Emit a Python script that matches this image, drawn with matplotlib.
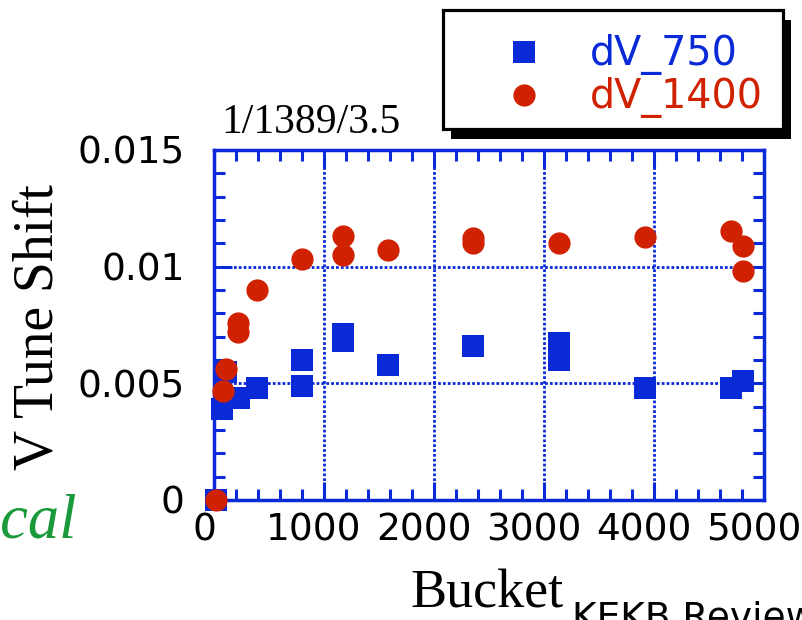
import matplotlib.pyplot as plt
import matplotlib.transforms as mtransforms
from matplotlib.patches import Rectangle
from matplotlib.lines import Line2D
from matplotlib.ticker import MultipleLocator

# vertical tune shift vs bucket number, two bunch-current settings
bucket_750 = [20, 76, 227, 106, 394, 797, 797, 1175, 1175, 1579, 2357, 3136, 3136, 3915, 4697, 4812]
dv_750 = [0.0, 0.0039, 0.00437, 0.0055, 0.0048, 0.0049, 0.0060, 0.0071, 0.0068, 0.0058,
          0.0066, 0.00675, 0.0060, 0.0048, 0.0048, 0.0051]

bucket_1400 = [20, 79, 106, 221, 221, 394, 797, 1175, 1175, 1579, 2357, 2357, 3136, 3915, 4697, 4812, 4812]
dv_1400 = [0.0, 0.00467, 0.0056, 0.0072, 0.0076, 0.0090, 0.01033, 0.0105, 0.0113, 0.0107,
           0.01125, 0.0110, 0.0110, 0.01127, 0.01154, 0.01087, 0.00983]

xticks = [0, 1000, 2000, 3000, 4000, 5000]
yticks = [0, 0.005, 0.01, 0.015]
ytick_labels = ['0', '0.005', '0.01', '0.015']
labels = ['dV_750', 'dV_1400']

blue = '#0A2AD8'
red = '#D02200'
green = '#1A9A3A'
serif = 'Liberation Serif'
sans = 'DejaVu Sans'

W, H = 803, 620
fig = plt.figure(figsize=(W / 100, H / 100), dpi=100)
ax = fig.add_axes([214 / W, 1 - 500 / H, 550 / W, 350 / H])

ax.plot(bucket_750, dv_750, 's', color=blue, ms=16, mew=0, clip_on=False, zorder=3)
ax.plot(bucket_1400, dv_1400, 'o', color=red, ms=16, mew=0, clip_on=False, zorder=4)

ax.set_xlim(0, 5000)
ax.set_ylim(0, 0.015)
ax.set_xticks(xticks)
ax.set_yticks(yticks)
ax.set_yticklabels(ytick_labels)
ax.xaxis.set_minor_locator(MultipleLocator(200))
ax.yaxis.set_minor_locator(MultipleLocator(0.001))

for s in ax.spines.values():
    s.set_color(blue)
    s.set_linewidth(2.5)

ax.tick_params(which='both', direction='in', top=True, right=True, color=blue, width=2.2)
ax.tick_params(which='major', length=13, labelsize=27, labelcolor='black')
ax.tick_params(which='minor', length=8)
ax.tick_params(axis='y', which='major', pad=21)
ax.tick_params(axis='x', which='major', pad=9)
for lbl in ax.get_xticklabels() + ax.get_yticklabels():
    lbl.set_family(sans)

# shift the x tick labels a little to the left
shift = mtransforms.ScaledTranslation(-10 / 100, 0, fig.dpi_scale_trans)
for lbl in ax.get_xticklabels():
    lbl.set_transform(lbl.get_transform() + shift)

ax.grid(True, which='major', color=blue, linewidth=2.0, linestyle=(0, (1, 0.75)))
ax.set_axisbelow(True)

# axis titles
fig.text(39 / W, 1 - 327 / H, 'V Tune Shift', family=serif, fontsize=40,
         rotation=90, ha='center', va='center')
fig.text(410 / W, 1 - 607 / H, 'Bucket', family=serif, fontsize=39, ha='left', va='baseline')
fig.text(572 / W, 1 - 629 / H, 'KEKB Review', family=sans, fontsize=27, ha='left', va='baseline')
fig.text(221 / W, 1 - 133 / H, '1/1389/3.5', family=serif, fontsize=30, ha='left', va='baseline')
fig.text(77 / W, 1 - 538 / H, 'Vertical', family=serif, style='italic', fontsize=45,
         color=green, ha='right', va='baseline')

# legend box with a solid drop shadow
bx0, by0, bx1, by1 = 443, 10, 783, 129
fig.patches.append(Rectangle(((bx0 + 8) / W, 1 - (by1 + 10) / H), (bx1 - bx0) / W, (by1 - by0) / H,
                             transform=fig.transFigure, facecolor='black', edgecolor='black',
                             linewidth=0, zorder=5))
fig.patches.append(Rectangle((bx0 / W, 1 - by1 / H), (bx1 - bx0) / W, (by1 - by0) / H,
                             transform=fig.transFigure, facecolor='white', edgecolor='black',
                             linewidth=2.3, zorder=6))
for mk, col, lab, ym, yb in [('s', blue, labels[0], 52, 65), ('o', red, labels[1], 95, 108)]:
    fig.lines.append(Line2D([524 / W], [1 - ym / H], marker=mk, color=col, ms=16, mew=0,
                            linestyle='none', transform=fig.transFigure, zorder=7))
    fig.text(590 / W, 1 - yb / H, lab, family=sans, fontsize=28.5, color=col,
             ha='left', va='baseline', zorder=7)

fig.savefig('out.png', dpi=100)
